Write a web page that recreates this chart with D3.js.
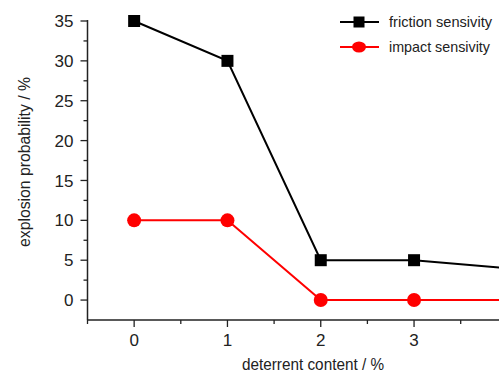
<!DOCTYPE html>
<html>
<head>
<meta charset="utf-8">
<script src="https://cdn.jsdelivr.net/npm/d3@7"></script>
<style>
  body { margin: 0; background: #fff; }
  svg { display: block; font-family: "Liberation Sans", Arial, sans-serif; }
</style>
</head>
<body>
<svg id="chart" width="499" height="373"></svg>
<script>
// data
const content = [0, 1, 2, 3, 4]
const friction = [35, 30, 5, 5, 4]
const impact = [10, 10, 0, 0, 0]
const xTicks = [0, 1, 2, 3]
const yTicks = [0, 5, 10, 15, 20, 25, 30, 35]

const svg = d3.select('#chart')
const x = d3.scaleLinear().domain([-0.5, 4.5]).range([87.5, 554])
const y = d3.scaleLinear().domain([-2.5, 35]).range([320, 21])

const axisColor = '#222'

// y axis
const yAxis = svg.append('g').attr('transform', 'translate(87.5,0)')
yAxis.append('line').attr('y1', y(35) - 1).attr('y2', y(-2.5))
  .attr('stroke', axisColor).attr('stroke-width', 1.5)
yAxis.selectAll('.maj').data(yTicks).join('line')
  .attr('x1', -7).attr('x2', 0).attr('y1', d => y(d)).attr('y2', d => y(d))
  .attr('stroke', axisColor).attr('stroke-width', 1.3)
yAxis.selectAll('.min').data(d3.range(2.5, 35, 5)).join('line')
  .attr('x1', -4).attr('x2', 0).attr('y1', d => y(d)).attr('y2', d => y(d))
  .attr('stroke', axisColor).attr('stroke-width', 1.3)
yAxis.selectAll('text').data(yTicks).join('text')
  .attr('x', -14).attr('y', d => y(d)).attr('dy', '0.36em')
  .attr('text-anchor', 'end').attr('font-size', 17).attr('fill', '#222')
  .text(d => d)

// x axis
const xAxis = svg.append('g').attr('transform', 'translate(0,320)')
xAxis.append('line').attr('x1', 87.5).attr('x2', x(4.5))
  .attr('stroke', axisColor).attr('stroke-width', 1.5)
xAxis.selectAll('.maj').data(content).join('line')
  .attr('x1', d => x(d)).attr('x2', d => x(d)).attr('y1', 0).attr('y2', 7)
  .attr('stroke', axisColor).attr('stroke-width', 1.3)
xAxis.selectAll('.min').data(d3.range(-0.5, 4.6, 1)).join('line')
  .attr('x1', d => x(d)).attr('x2', d => x(d)).attr('y1', 0).attr('y2', 4)
  .attr('stroke', axisColor).attr('stroke-width', 1.3)
xAxis.selectAll('text').data(xTicks).join('text')
  .attr('x', d => x(d)).attr('y', 26)
  .attr('text-anchor', 'middle').attr('font-size', 17).attr('fill', '#222')
  .text(d => d)

// axis titles
svg.append('text').attr('x', 313).attr('y', 370)
  .attr('text-anchor', 'middle').attr('font-size', 16).attr('fill', '#222')
  .attr('textLength', 142).attr('lengthAdjust', 'spacingAndGlyphs')
  .text('deterrent content / %')
svg.append('text').attr('transform', 'translate(30,162) rotate(-90)')
  .attr('text-anchor', 'middle').attr('font-size', 16).attr('fill', '#222')
  .attr('textLength', 170).attr('lengthAdjust', 'spacingAndGlyphs')
  .text('explosion probability / %')

// series
const line = d3.line().x(d => x(d[0])).y(d => y(d[1]))
const fData = content.map((c, i) => [c, friction[i]])
const iData = content.map((c, i) => [c, impact[i]])

svg.append('path').datum(iData).attr('d', line)
  .attr('fill', 'none').attr('stroke', '#ff0000').attr('stroke-width', 2)
svg.selectAll('.ip').data(iData).join('circle')
  .attr('cx', d => x(d[0])).attr('cy', d => y(d[1])).attr('r', 7)
  .attr('fill', '#ff0000')

svg.append('path').datum(fData).attr('d', line)
  .attr('fill', 'none').attr('stroke', '#000').attr('stroke-width', 2)
svg.selectAll('.fp').data(fData).join('rect')
  .attr('x', d => x(d[0]) - 6).attr('y', d => y(d[1]) - 6)
  .attr('width', 12).attr('height', 12).attr('fill', '#000')

// legend
const legend = svg.append('g')
const items = [
  { name: 'friction sensivity', color: '#000', shape: 'square', yy: 22, len: 103 },
  { name: 'impact sensivity', color: '#ff0000', shape: 'circle', yy: 47, len: 101 }
]
items.forEach(it => {
  legend.append('line').attr('x1', 340).attr('x2', 379).attr('y1', it.yy).attr('y2', it.yy)
    .attr('stroke', it.color).attr('stroke-width', 2)
  if (it.shape === 'square') {
    legend.append('rect').attr('x', 359 - 5.5).attr('y', it.yy - 5.5)
      .attr('width', 11).attr('height', 11).attr('fill', it.color)
  } else {
    legend.append('ellipse').attr('cx', 359).attr('cy', it.yy).attr('rx', 7).attr('ry', 5.5)
      .attr('fill', it.color)
  }
  legend.append('text').attr('x', 389).attr('y', it.yy).attr('dy', '0.35em')
    .attr('font-size', 15).attr('fill', '#222')
    .attr('textLength', it.len).attr('lengthAdjust', 'spacingAndGlyphs')
    .text(it.name)
})
</script>
</body>
</html>
